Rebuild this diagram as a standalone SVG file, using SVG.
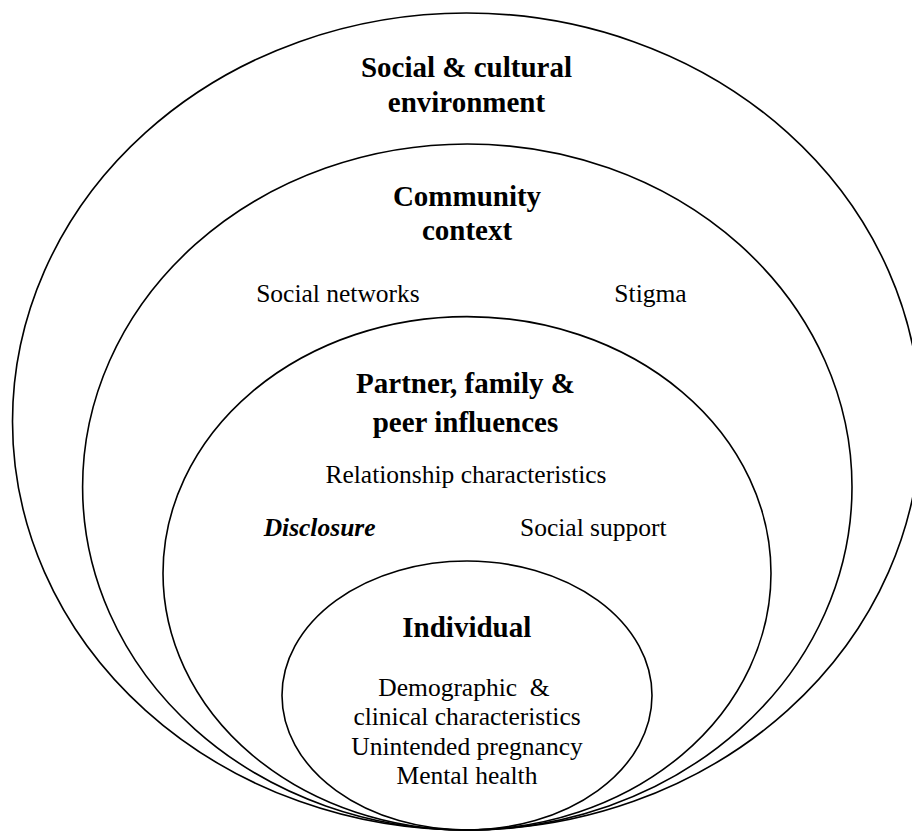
<svg xmlns="http://www.w3.org/2000/svg" width="912" height="831" viewBox="0 0 912 831">
<style>
.ring{fill:none;stroke:#000;stroke-width:1.6}
text{font-family:"Liberation Serif","Times New Roman",serif;fill:#000;text-anchor:middle}
.h{font-size:29px;font-weight:bold}
.t{font-size:25.5px}
.bi{font-size:25.5px;font-weight:bold;font-style:italic}
</style>
<rect width="912" height="831" fill="#fff"/>
<g id="social-cultural">
<ellipse class="ring" cx="466.5" cy="421.5" rx="454" ry="408.5"/>
<text class="h" x="466.5" y="77">Social &amp; cultural</text>
<text class="h" x="466.5" y="112">environment</text>
</g>
<g id="community">
<ellipse class="ring" cx="467.3" cy="487" rx="384.7" ry="343"/>
<text class="h" x="467" y="206">Community</text>
<text class="h" x="467" y="240">context</text>
<text class="t" x="338" y="302">Social networks</text>
<text class="t" x="650.5" y="302">Stigma</text>
</g>
<g id="partner-family-peer">
<ellipse class="ring" cx="467" cy="573.3" rx="304" ry="256.7"/>
<text class="h" x="465.5" y="393">Partner, family &amp;</text>
<text class="h" x="465.5" y="432">peer influences</text>
<text class="t" x="466" y="483">Relationship characteristics</text>
<text class="bi" x="319.6" y="536">Disclosure</text>
<text class="t" x="593.3" y="536">Social support</text>
</g>
<g id="individual">
<ellipse class="ring" cx="467" cy="695.5" rx="185" ry="134.5"/>
<text class="h" x="466.8" y="637">Individual</text>
<text class="t" x="464" y="696" xml:space="preserve">Demographic  &amp;</text>
<text class="t" x="467" y="725">clinical characteristics</text>
<text class="t" x="467" y="754.5">Unintended pregnancy</text>
<text class="t" x="467" y="784">Mental health</text>
</g>
<g id="connectors"></g>
</svg>
